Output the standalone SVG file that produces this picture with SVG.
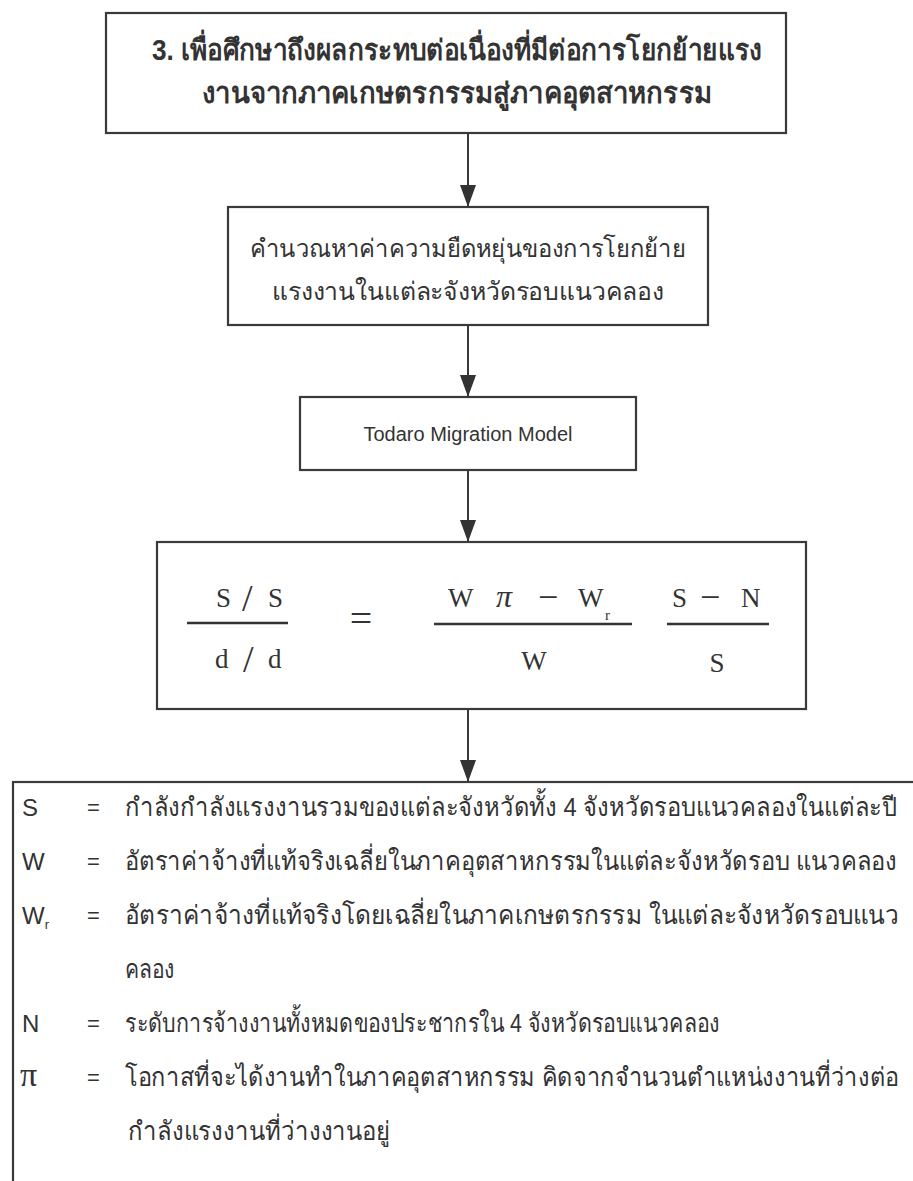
<svg xmlns="http://www.w3.org/2000/svg" width="913" height="1181" viewBox="0 0 913 1181">
<defs>
<style>
.box{fill:#fff;stroke:#3a3a3a;stroke-width:2.2}
.conn{stroke:#3a3a3a;stroke-width:2;fill:none}
.th{font-family:"Liberation Sans","Noto Sans","DejaVu Sans",sans-serif;fill:#333}
.en{font-family:"Liberation Sans",Arial,sans-serif;fill:#333}
.math{font-family:"Liberation Serif","Times New Roman",serif;fill:#333}
.frac{stroke:#333;stroke-width:2.4}
</style>
<marker id="ah" markerWidth="22" markerHeight="16" refX="22" refY="8" orient="auto" markerUnits="userSpaceOnUse">
<path d="M0,0 L22,8 L0,16 Z" fill="#333"/>
</marker>
</defs>
<rect width="913" height="1181" fill="#fff"/>

<g id="connectors">
<line class="conn" x1="468" y1="133" x2="468" y2="207" marker-end="url(#ah)"/>
<line class="conn" x1="468" y1="325" x2="468" y2="397" marker-end="url(#ah)"/>
<line class="conn" x1="468" y1="470" x2="468" y2="542" marker-end="url(#ah)"/>
<line class="conn" x1="468" y1="709" x2="468" y2="782" marker-end="url(#ah)"/>
</g>

<g id="node-objective">
<rect class="box" x="106" y="13" width="680" height="120"/>
<text class="th" x="457" y="60" font-size="29" font-weight="bold" text-anchor="middle" textLength="610" lengthAdjust="spacingAndGlyphs">3. เพื่อศึกษาถึงผลกระทบต่อเนื่องที่มีต่อการโยกย้ายแรง</text>
<text class="th" x="457" y="103" font-size="29" font-weight="bold" text-anchor="middle" textLength="510" lengthAdjust="spacingAndGlyphs">งานจากภาคเกษตรกรรมสู่ภาคอุตสาหกรรม</text>
</g>

<g id="node-elasticity">
<rect class="box" x="228" y="207" width="480" height="118"/>
<text class="th" x="468" y="257" font-size="25" text-anchor="middle" textLength="436" lengthAdjust="spacingAndGlyphs">คำนวณหาค่าความยืดหยุ่นของการโยกย้าย</text>
<text class="th" x="468" y="300" font-size="25" text-anchor="middle" textLength="392" lengthAdjust="spacingAndGlyphs">แรงงานในแต่ละจังหวัดรอบแนวคลอง</text>
</g>

<g id="node-todaro">
<rect class="box" x="300" y="397" width="336" height="73"/>
<text class="en" x="468" y="441" font-size="20" text-anchor="middle">Todaro Migration Model</text>
</g>

<g id="node-formula">
<rect class="box" x="157" y="542" width="649" height="167"/>
<text class="math" x="216" y="607" font-size="27">S</text>
<text class="math" x="242" y="611" font-size="38">/</text>
<text class="math" x="268" y="607" font-size="27">S</text>
<line class="frac" x1="187" y1="623" x2="288" y2="623"/>
<text class="math" x="215" y="668" font-size="27">d</text>
<text class="math" x="243" y="672" font-size="38">/</text>
<text class="math" x="268" y="668" font-size="27">d</text>
<text class="math" x="361" y="632" font-size="40" text-anchor="middle">=</text>
<text class="math" x="448" y="607" font-size="27">W</text>
<text class="math" x="496" y="607" font-size="32" font-style="italic">π</text>
<text class="math" x="538" y="609" font-size="36">−</text>
<text class="math" x="578" y="607" font-size="27">W</text>
<text class="math" x="605" y="620" font-size="15">r</text>
<line class="frac" x1="434" y1="624" x2="632" y2="624"/>
<text class="math" x="534" y="670" font-size="27" text-anchor="middle">W</text>
<text class="math" x="672" y="607" font-size="27">S</text>
<text class="math" x="700" y="609" font-size="36">−</text>
<text class="math" x="741" y="607" font-size="27">N</text>
<line class="frac" x1="667" y1="624" x2="769" y2="624"/>
<text class="math" x="717" y="672" font-size="27" text-anchor="middle">S</text>
</g>

<g id="node-legend">
<rect class="box" x="13" y="782" width="920" height="420"/>
<g class="en" font-size="24">
<text x="22" y="816">S</text>
<text x="22" y="870">W</text>
<text x="22" y="924">W<tspan font-size="13" dy="5">r</tspan></text>
<text x="22" y="1032">N</text>
</g>
<text class="math" x="20" y="1086" font-size="34">π</text>
<g class="en" font-size="22">
<text x="87" y="815">=</text>
<text x="87" y="869">=</text>
<text x="87" y="923">=</text>
<text x="87" y="1031">=</text>
<text x="87" y="1085">=</text>
</g>
<g class="th" font-size="22">
<text transform="translate(125 816) scale(1 1.18)" textLength="772" lengthAdjust="spacingAndGlyphs">กำลังกำลังแรงงานรวมของแต่ละจังหวัดทั้ง 4 จังหวัดรอบแนวคลองในแต่ละปี</text>
<text transform="translate(125 870) scale(1 1.18)" textLength="772" lengthAdjust="spacingAndGlyphs">อัตราค่าจ้างที่แท้จริงเฉลี่ยในภาคอุตสาหกรรมในแต่ละจังหวัดรอบ แนวคลอง</text>
<text transform="translate(125 924) scale(1 1.18)" textLength="774" lengthAdjust="spacingAndGlyphs">อัตราค่าจ้างที่แท้จริงโดยเฉลี่ยในภาคเกษตรกรรม ในแต่ละจังหวัดรอบแนว</text>
<text transform="translate(125 978) scale(1 1.18)" textLength="50" lengthAdjust="spacingAndGlyphs">คลอง</text>
<text transform="translate(125 1032) scale(1 1.18)" textLength="595" lengthAdjust="spacingAndGlyphs">ระดับการจ้างงานทั้งหมดของประชากรใน 4 จังหวัดรอบแนวคลอง</text>
<text transform="translate(125 1086) scale(1 1.18)" textLength="774" lengthAdjust="spacingAndGlyphs">โอกาสที่จะได้งานทำในภาคอุตสาหกรรม คิดจากจำนวนตำแหน่งงานที่ว่างต่อ</text>
<text transform="translate(128 1140) scale(1 1.18)" textLength="262" lengthAdjust="spacingAndGlyphs">กำลังแรงงานที่ว่างงานอยู่</text>
</g>
</g>
</svg>
